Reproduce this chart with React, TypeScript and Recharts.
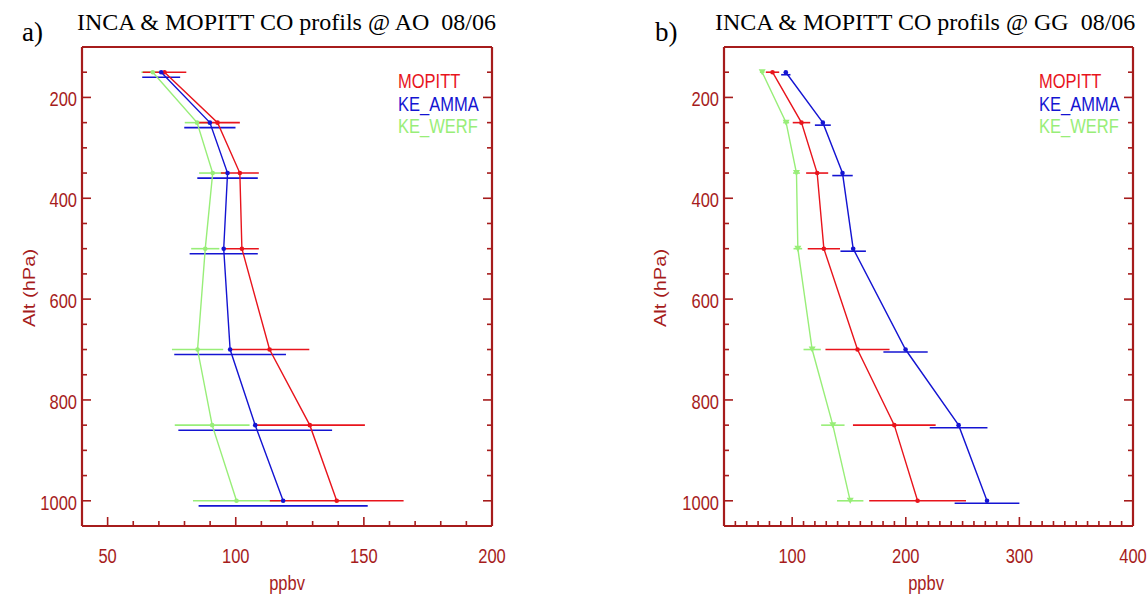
import React from 'react'
import { ScatterChart, Scatter, XAxis, YAxis, ErrorBar } from 'recharts'

// pressure levels (hPa) shared by both profiles
const levels = [150, 250, 350, 500, 700, 850, 1000]

// a) AO
const aoMopitt = [72.2, 92.9, 101.6, 102.4, 113.2, 128.9, 139.4]
const aoMopittErr = [8.5, 8.7, 7.4, 6.6, 15.5, 21.5, 26.1]
const aoAmma = [70.9, 89.9, 96.8, 95.3, 97.8, 107.6, 118.5]
const aoAmmaErr = [7.4, 10, 11.8, 13.3, 21.8, 30, 33]
const aoWerf = [67.6, 84.9, 91.0, 88.1, 85.1, 90.8, 100.3]
const aoWerfErr = [4.4, 4.8, 5.3, 5.5, 10, 14.6, 17]

// b) GG
const ggMopitt = [82.7, 108.2, 122.0, 127.9, 157.5, 189.9, 210.4]
const ggMopittErr = [5.9, 7.7, 9.7, 14.2, 28.2, 36.4, 42.6]
const ggAmma = [94.4, 127.0, 144.3, 153.7, 199.8, 246.5, 271.5]
const ggAmmaErr = [4.1, 7, 9, 11.2, 19.5, 25.4, 28.5]
const ggWerf = [73.6, 94.7, 103.8, 105.0, 117.6, 135.8, 151.1]
const ggWerfErr = [2, 2.6, 3, 3.8, 7.6, 10.3, 11.6]

const yMajor = [200, 400, 600, 800, 1000]
const yTicks = [150, 200, 250, 300, 350, 400, 450, 500, 550, 600, 650, 700, 750, 800, 850, 900, 950, 1000]
const aXMajor = [50, 100, 150, 200]
const bXMajor = [100, 200, 300, 400]

const range = (from: number, to: number, step: number) => {
  const out: number[] = []
  for (let v = from; v <= to; v += step) out.push(v)
  return out
}

const AXIS = '#a61c1c'
const RED = '#e8141c'
const BLUE = '#1414d2'
const GREEN = '#98ee78'
const SANS = "'Liberation Sans', Arial, sans-serif"
const SERIF = "'Liberation Serif', 'Times New Roman', serif"
const STRETCH = 1.22

// the original device stretches its sans text vertically
function SText({ x, y, fill, anchor = 'start', rotate = false, children }: any) {
  return (
    <text
      transform={`translate(${x},${y}) scale(1,${STRETCH})${rotate ? ' rotate(-90)' : ''}`}
      fontSize={16.5} fontFamily={SANS} fill={fill} textAnchor={anchor}
    >
      {children}
    </text>
  )
}

const rows = (vals: number[], errs: number[]) =>
  levels.map((p, i) => ({ p, v: vals[i], e: errs[i] }))

const dot = (color: string) => (props: any) =>
  <circle cx={props.cx} cy={props.cy} r={2.3} fill={color} />

const tri = (color: string) => (props: any) => (
  <polygon
    points={`${props.cx - 3.5},${props.cy - 3} ${props.cx + 3.5},${props.cy - 3} ${props.cx},${props.cy + 3}`}
    fill={color}
  />
)

const none = () => <g />

// inward tick marks, labels only on left / bottom
const makeTick = (side: string, majors: number[], label: boolean) => (props: any) => {
  const { x, y, payload } = props
  const major = majors.includes(payload.value)
  const len = major ? 9 : 5
  let x2 = x, y2 = y
  if (side === 'left') x2 = x + len
  if (side === 'right') x2 = x - len
  if (side === 'top') y2 = y + len
  if (side === 'bottom') y2 = y - len
  return (
    <g>
      <line x1={x} y1={y} x2={x2} y2={y2} stroke={AXIS} strokeWidth={1.6} />
      {label && major && side === 'left' && <SText x={x - 5} y={y + 9} fill={AXIS} anchor="end">{payload.value}</SText>}
      {label && major && side === 'bottom' && <SText x={x} y={y + 37} fill={AXIS} anchor="middle">{payload.value}</SText>}
    </g>
  )
}

interface PanelProps {
  left: number
  width: number
  margin: { top: number; bottom: number; left: number; right: number }
  xDomain: [number, number]
  xMajor: number[]
  xTicks: number[]
  mopitt: any[]
  amma: any[]
  werf: any[]
  ammaShift: number
  werfTri?: boolean
}

function Panel({ left, width, margin, xDomain, xMajor, xTicks, mopitt, amma, werf, ammaShift, werfTri }: PanelProps) {
  const yDomain: [number, number] = [100, 1050]
  const axisLine = { stroke: AXIS, strokeWidth: 2.2 }
  return (
    <div style={{ position: 'absolute', left, top: 0 }}>
      <ScatterChart width={width} height={595} margin={margin}>
        <XAxis xAxisId="x" type="number" dataKey="v" domain={xDomain} allowDataOverflow ticks={xTicks}
          interval={0} height={1} tickSize={0} tickMargin={0} tickLine={false} axisLine={axisLine}
          tick={makeTick('bottom', xMajor, true)} />
        <XAxis xAxisId="xt" orientation="top" type="number" domain={xDomain} allowDataOverflow ticks={xTicks}
          interval={0} height={1} tickSize={0} tickMargin={0} tickLine={false} axisLine={axisLine}
          tick={makeTick('top', xMajor, false)} />
        <YAxis yAxisId="y" type="number" dataKey="p" reversed domain={yDomain} allowDataOverflow ticks={yTicks}
          interval={0} width={1} tickSize={0} tickMargin={0} tickLine={false} axisLine={axisLine}
          tick={makeTick('left', yMajor, true)} />
        <YAxis yAxisId="yr" orientation="right" type="number" reversed domain={yDomain} allowDataOverflow ticks={yTicks}
          interval={0} width={1} tickSize={0} tickMargin={0} tickLine={false} axisLine={axisLine}
          tick={makeTick('right', yMajor, false)} />
        {/* blue error bars sit a few pixels under their points */}
        <YAxis yAxisId="yoff" hide type="number" dataKey="p" reversed domain={[yDomain[0] - ammaShift, yDomain[1] - ammaShift]}
          allowDataOverflow width={0} />

        <Scatter data={werf} xAxisId="x" yAxisId="y" shape={werfTri ? tri(GREEN) : dot(GREEN)} isAnimationActive={false}
          line={{ stroke: GREEN, strokeWidth: 1.4 }} lineType="joint">
          <ErrorBar dataKey="e" direction="x" width={0} stroke={GREEN} strokeWidth={1.6} isAnimationActive={false} />
        </Scatter>
        <Scatter data={mopitt} xAxisId="x" yAxisId="y" shape={dot(RED)} isAnimationActive={false}
          line={{ stroke: RED, strokeWidth: 1.4 }} lineType="joint">
          <ErrorBar dataKey="e" direction="x" width={0} stroke={RED} strokeWidth={1.6} isAnimationActive={false} />
        </Scatter>
        <Scatter data={amma} xAxisId="x" yAxisId="yoff" shape={none} isAnimationActive={false}>
          <ErrorBar dataKey="e" direction="x" width={0} stroke={BLUE} strokeWidth={1.6} isAnimationActive={false} />
        </Scatter>
        <Scatter data={amma} xAxisId="x" yAxisId="y" shape={dot(BLUE)} isAnimationActive={false}
          line={{ stroke: BLUE, strokeWidth: 1.4 }} lineType="joint" />
      </ScatterChart>
    </div>
  )
}

export default function App() {
  return (
    <div style={{ position: 'absolute', left: 0, top: 0, width: 1148, height: 595, background: '#fff', overflow: 'hidden' }}>
      <Panel
        left={0} width={540}
        margin={{ top: 46, bottom: 68, left: 81, right: 47 }}
        xDomain={[40, 200]} xMajor={aXMajor} xTicks={range(50, 200, 10)}
        mopitt={rows(aoMopitt, aoMopittErr)} amma={rows(aoAmma, aoAmmaErr)} werf={rows(aoWerf, aoWerfErr)}
        ammaShift={10}
      />
      <Panel
        left={600} width={548}
        margin={{ top: 46, bottom: 68, left: 123, right: 14 }}
        xDomain={[40, 400]} xMajor={bXMajor} xTicks={range(50, 400, 10)}
        mopitt={rows(ggMopitt, ggMopittErr)} amma={rows(ggAmma, ggAmmaErr)} werf={rows(ggWerf, ggWerfErr)}
        ammaShift={5} werfTri
      />
      <svg width={1148} height={595} style={{ position: 'absolute', left: 0, top: 0, pointerEvents: 'none' }}>
        <text x={22} y={41} fontSize={27} fontFamily={SERIF}>a)</text>
        <text x={77} y={30} fontSize={24} fontFamily={SERIF} style={{ whiteSpace: 'pre' }}>INCA &amp; MOPITT CO profils @ AO  08/06</text>
        <text x={655} y={41} fontSize={27} fontFamily={SERIF}>b)</text>
        <text x={715} y={30} fontSize={24} fontFamily={SERIF} style={{ whiteSpace: 'pre' }}>INCA &amp; MOPITT CO profils @ GG  08/06</text>

        <SText x={398} y={88} fill={RED}>MOPITT</SText>
        <SText x={398} y={111} fill={BLUE}>KE_AMMA</SText>
        <SText x={398} y={133} fill={GREEN}>KE_WERF</SText>
        <SText x={1039} y={88} fill={RED}>MOPITT</SText>
        <SText x={1039} y={111} fill={BLUE}>KE_AMMA</SText>
        <SText x={1039} y={133} fill={GREEN}>KE_WERF</SText>

        <SText x={35} y={288} fill={AXIS} anchor="middle" rotate>Alt (hPa)</SText>
        <SText x={666} y={288} fill={AXIS} anchor="middle" rotate>Alt (hPa)</SText>
        <SText x={287} y={590} fill={AXIS} anchor="middle">ppbv</SText>
        <SText x={926} y={590} fill={AXIS} anchor="middle">ppbv</SText>
      </svg>
    </div>
  )
}
